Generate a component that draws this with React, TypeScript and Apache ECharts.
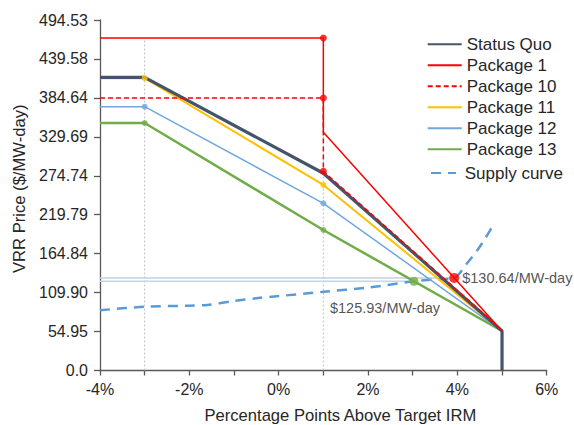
import React, { useEffect, useRef } from "react";
import * as echarts from "echarts";

// VRR curves: [percentage points above target IRM, price in $/MW-day]
const statusQuo: number[][] = [[-4, 413.7], [-3, 413.7], [1, 278.3], [5, 55.7], [5, 0]];
const package1: number[][] = [[-4, 469.2], [1, 469.2], [1, 336.0], [5, 55.7]];
const package10: number[][] = [[-4, 384.6], [1, 384.6], [1, 281.0], [5, 57.0]];
const package11: number[][] = [[-4, 412.5], [-3, 412.5], [1, 261.8], [5, 55.7]];
const package12: number[][] = [[-4, 372.2], [-3, 372.2], [1, 235.9], [5, 55.7]];
const package13: number[][] = [[-4, 349.2], [-3, 349.2], [1, 198.2], [5, 55.7]];

// Vertex markers on each curve
const package1Markers: number[][] = [[1, 469.2]];
const package10Markers: number[][] = [[1, 384.6], [1, 281.0]];
const package11Markers: number[][] = [[-3, 412.5], [1, 261.8]];
const package12Markers: number[][] = [[-3, 372.2], [1, 235.9]];
const package13Markers: number[][] = [[-3, 349.2], [1, 198.2]];

// Supply curve
const supplyCurve: number[][] = [
  [-4, 85.0], [-3, 90.0], [-2, 91.5], [-1.6, 92.5], [-1, 98.0], [-0.5, 102.0],
  [0, 105.0], [1, 111.0], [2, 117.0], [3.03, 125.93], [3.5, 128.4], [3.93, 130.64],
  [4.2, 150.0], [4.45, 170.0], [4.63, 187.0], [4.8, 205.0],
];

// Clearing points: [x, clearing price]
const clearPackage1: number[] = [3.93, 130.64];
const clearPackage13: number[] = [3.03, 125.93];

// Dotted reference verticals
const refVerticals: number[] = [-3, 1];
const refVerticalTop = 469.2;

// Axis ticks
const xMin = -4;
const xMax = 6;
const yMax = 494.53;
const yTickLabels: string[] = [
  "0.0", "54.95", "109.90", "164.84", "219.79", "274.74", "329.69", "384.64", "439.58", "494.53",
];

const FONT = "'Liberation Sans', Arial, Helvetica, sans-serif";
const TEXT = "#262626";
const AXIS = "#595959";

export default function App() {
  const ref = useRef<HTMLDivElement>(null);

  useEffect(() => {
    if (!ref.current) return;
    const chart = echarts.init(ref.current, undefined, { renderer: "svg" });
    const yInterval = yMax / (yTickLabels.length - 1);

    const lineSeries = (name: string, data: number[][], color: string, width: number, type: any = "solid", z = 3) => ({
      name,
      type: "line",
      data,
      symbol: "none",
      z,
      lineStyle: { color, width, type },
      itemStyle: { color },
      emphasis: { disabled: true },
    });

    const markerSeries = (data: number[][], color: string, size: number, z = 6) => ({
      type: "scatter",
      data,
      symbol: "circle",
      symbolSize: size,
      itemStyle: { color },
      z,
      silent: true,
    });

    const legendText = (padLeft: number) => ({
      fontSize: 17,
      color: TEXT,
      fontFamily: FONT,
      lineHeight: 16,
      padding: [0, 0, 0, padLeft],
    });

    const option: any = {
      animation: false,
      textStyle: { fontFamily: FONT },
      grid: { left: 100, right: 27.3, top: 20, bottom: 54.5, containLabel: false, outerBoundsMode: "none" },
      legend: [
        {
          data: ["Status Quo", "Package 1", "Package 10", "Package 11", "Package 12", "Package 13"],
          orient: "vertical",
          left: 421.7,
          top: 30.7,
          itemWidth: 34,
          itemHeight: 14,
          itemGap: 4,
          selectedMode: false,
          itemStyle: { opacity: 0 },
          textStyle: legendText(0),
        },
        {
          data: ["Supply curve"],
          orient: "vertical",
          left: 425,
          top: 159.5,
          itemWidth: 25,
          itemHeight: 14,
          selectedMode: false,
          itemStyle: { opacity: 0 },
          textStyle: legendText(3.7),
        },
      ],
      xAxis: {
        type: "value",
        min: xMin,
        max: xMax,
        interval: 1,
        name: "Percentage Points Above Target IRM",
        nameLocation: "middle",
        nameGap: 36,
        nameTextStyle: { fontSize: 16.6, color: TEXT, fontFamily: FONT, padding: [0, 0, 0, 34] },
        axisLine: { onZero: false, lineStyle: { color: AXIS, width: 1.3 } },
        axisTick: { show: true, length: 5, lineStyle: { color: AXIS, width: 1.3 } },
        axisLabel: {
          fontSize: 16,
          color: TEXT,
          margin: 11,
          formatter: (v: number) => (Math.round(v) % 2 === 0 ? `${Math.round(v)}%` : ""),
        },
        splitLine: { show: false },
      },
      yAxis: {
        type: "value",
        min: 0,
        max: yMax,
        interval: yInterval,
        name: "VRR Price ($/MW-day)",
        nameLocation: "middle",
        nameGap: 71,
        nameTextStyle: { fontSize: 16.6, color: TEXT, fontFamily: FONT, padding: [0, 0, 0, 13] },
        axisLine: { show: true, onZero: false, lineStyle: { color: AXIS, width: 1.3 } },
        axisTick: { show: true, length: 6, lineStyle: { color: AXIS, width: 1.3 } },
        axisLabel: {
          fontSize: 16,
          color: TEXT,
          margin: 12,
          formatter: (v: number) => yTickLabels[Math.round(v / yInterval)] ?? "",
        },
        splitLine: { show: false },
      },
      series: [
        ...refVerticals.map((x) => ({
          type: "line",
          data: [[x, 0], [x, refVerticalTop]],
          symbol: "none",
          silent: true,
          z: 1,
          lineStyle: { color: "#BFBFBF", width: 1, type: [2, 2] },
        })),
        {
          type: "line",
          data: [[xMin, clearPackage1[1]], [clearPackage1[0], clearPackage1[1]]],
          symbol: "none",
          silent: true,
          z: 1,
          lineStyle: { color: "#C9CFD9", width: 1.5 },
        },
        {
          type: "line",
          data: [[xMin, clearPackage13[1]], [clearPackage13[0], clearPackage13[1]]],
          symbol: "none",
          silent: true,
          z: 1,
          lineStyle: { color: "#BDD7EE", width: 1.5 },
        },
        { ...lineSeries("Supply curve", supplyCurve, "#5B9BD5", 2.5, [10, 7], 2), smooth: 0.3 },
        lineSeries("Package 13", package13, "#70AD47", 2.5),
        lineSeries("Package 12", package12, "#6FA8DC", 1.5),
        lineSeries("Package 11", package11, "#FFC000", 2),
        lineSeries("Status Quo", statusQuo, "#44546A", 3.2, "solid", 4),
        lineSeries("Package 1", package1, "#FF0000", 1.5, "solid", 5),
        lineSeries("Package 10", package10, "#FF0000", 1.5, [5, 3], 5),
        markerSeries(package13Markers, "#70AD47", 6),
        markerSeries(package12Markers, "#6FA8DC", 6),
        markerSeries(package11Markers, "#FFC000", 6),
        markerSeries(package1Markers, "#FF0000", 7),
        markerSeries(package10Markers, "#FF0000", 7),
        {
          type: "scatter",
          data: [clearPackage1],
          symbol: "circle",
          symbolSize: 10,
          itemStyle: { color: "#FF0000" },
          z: 7,
          silent: true,
          label: {
            show: true,
            position: "right",
            distance: 3,
            fontSize: 14.5,
            color: TEXT,
            fontFamily: FONT,
            formatter: (p: any) => `$${p.value[1].toFixed(2)}/MW-day`,
          },
        },
        {
          type: "scatter",
          data: [clearPackage13],
          symbol: "circle",
          symbolSize: 9,
          itemStyle: { color: "#70AD47" },
          z: 7,
          silent: true,
          label: {
            show: true,
            position: "bottom",
            distance: 5,
            offset: [-29, 10],
            fontSize: 14.5,
            color: TEXT,
            fontFamily: FONT,
            formatter: (p: any) => `$${p.value[1].toFixed(2)}/MW-day`,
          },
        },
      ],
    };

    chart.setOption(option);
    return () => chart.dispose();
  }, []);

  return <div ref={ref} style={{ width: 574, height: 425, position: "absolute", left: 0, top: 0 }} />;
}
